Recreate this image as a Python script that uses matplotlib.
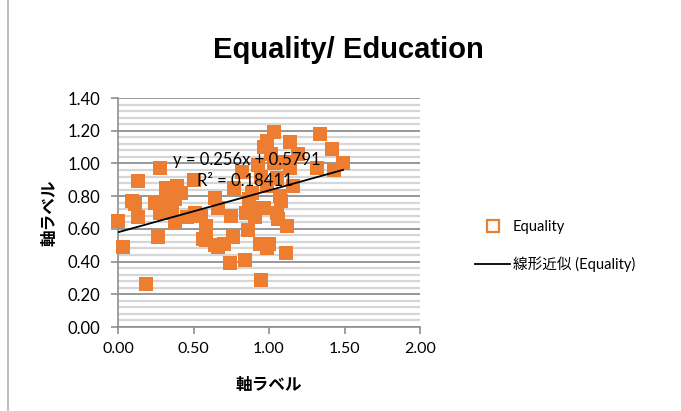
import numpy as np
import matplotlib
matplotlib.use("Agg")
import matplotlib.pyplot as plt
from matplotlib.lines import Line2D
from matplotlib.ticker import MultipleLocator

# === DATA ===
equality_x = [0.00, 0.03, 0.185, 0.13, 0.09, 0.11, 0.13, 0.28, 0.265, 0.245,
              0.32, 0.39, 0.50, 0.31, 0.38, 0.38, 0.28, 0.46, 0.51, 0.64,
              0.58, 0.56, 0.64, 0.70, 0.74, 0.84, 0.76, 0.86, 0.75, 0.85,
              0.94, 0.95, 0.99, 0.82, 0.77, 0.87, 1.03, 1.34, 1.42, 1.49,
              1.14, 0.97, 1.19, 1.32, 1.43, 1.14, 1.16, 1.05, 0.94, 1.05,
              1.12, 1.11, 0.99, 1.01, 0.89, 0.99, 1.07, 0.89, 0.66, 0.97,
              1.08, 0.91, 1.06, 0.58, 0.66, 1.00, 0.93, 1.03, 1.10, 0.95,
              0.42, 0.36, 0.55]
equality_y = [0.65, 0.49, 0.26, 0.89, 0.77, 0.75, 0.67, 0.97, 0.55, 0.76,
              0.85, 0.86, 0.90, 0.76, 0.78, 0.64, 0.70, 0.67, 0.70, 0.79,
              0.62, 0.54, 0.50, 0.51, 0.39, 0.41, 0.55, 0.59, 0.68, 0.70,
              0.51, 0.29, 0.48, 0.95, 0.85, 0.78, 1.19, 1.18, 1.09, 1.00,
              1.13, 1.10, 1.06, 0.97, 0.96, 0.97, 0.86, 0.91, 0.73, 0.70,
              0.62, 0.45, 1.14, 1.06, 0.82, 0.86, 0.80, 0.72, 0.73, 0.73,
              0.77, 0.67, 0.66, 0.53, 0.49, 0.51, 0.99, 1.00, 1.01, 0.92,
              0.82, 0.70, 0.68]

# trendline as printed on the chart
slope = 0.256
intercept = 0.5791
r_squared = "0.18411"

title = "Equality/ Education"
axis_label = "軸ラベル"
series_name = "Equality"
trend_name = "線形近似 (Equality)"

x_ticks = [0.0, 0.5, 1.0, 1.5, 2.0]
y_ticks = [0.0, 0.2, 0.4, 0.6, 0.8, 1.0, 1.2, 1.4]

orange = "#ED7D31"

plt.rcParams["font.family"] = ["Lato", "Noto Sans CJK JP", "DejaVu Sans"]

fig = plt.figure(figsize=(6.81, 4.11), dpi=100)
ax = fig.add_axes([118 / 681, 1 - 327 / 411, 302 / 681, 229 / 411])

# gridlines
ax.yaxis.set_minor_locator(MultipleLocator(0.04))
ax.grid(True, which="minor", axis="y", color="#d6d6d6", linewidth=1.6)
ax.grid(True, which="major", axis="y", color="#8f8f8f", linewidth=1.3)
ax.set_axisbelow(True)

ax.scatter(equality_x, equality_y, marker="s", s=115, color=orange,
           linewidths=0, zorder=3, clip_on=False)

tx = np.array([0, max(equality_x)])
ax.plot(tx, slope * tx + intercept, color="black", linewidth=1.3, zorder=4)

ax.text(0.364, 1.02, f"y = {slope}x + {intercept}", fontsize=12,
        va="center", ha="left", zorder=5)
ax.text(0.52, 0.89, f"R² = {r_squared}", fontsize=12,
        va="center", ha="left", zorder=5)

ax.set_xlim(0, 2.0)
ax.set_ylim(0, 1.4)
ax.set_xticks(x_ticks)
ax.set_yticks(y_ticks)
ax.set_xticklabels([f"{v:.2f}" for v in x_ticks], fontsize=11.5)
ax.set_yticklabels([f"{v:.2f}" for v in y_ticks], fontsize=12)
ax.tick_params(axis="both", which="major", color="#8f8f8f", length=5,
               width=1.2)
ax.tick_params(axis="x", pad=6)
ax.tick_params(axis="y", pad=8)
ax.tick_params(axis="y", which="minor", length=0)

for s in ["top", "right"]:
    ax.spines[s].set_visible(False)
for s in ["left", "bottom"]:
    ax.spines[s].set_color("#8f8f8f")
    ax.spines[s].set_linewidth(1.2)

ax.set_xlabel(axis_label, fontsize=12, fontweight="bold",
              family=["Noto Sans CJK JP"], labelpad=14)
ax.set_ylabel(axis_label, fontsize=12, fontweight="bold",
              family=["Noto Sans CJK JP"], labelpad=6)

fig.text(348 / 681, 1 - 50 / 411, title, fontsize=21, fontweight="bold",
         family=["Liberation Sans"], ha="center", va="center")

# legend
handles = [
    Line2D([], [], marker="s", linestyle="none", markersize=8,
           markerfacecolor="white", markeredgecolor=orange,
           markeredgewidth=1.6),
    Line2D([], [], color="black", linewidth=1.3),
]
fig.legend(handles, [series_name, trend_name], loc="center left",
           bbox_to_anchor=(462 / 681, 1 - 246 / 411), frameon=False,
           fontsize=10.5, labelspacing=1.5, handlelength=2.4,
           handletextpad=0.2)

# chart area border on the left
fig.add_artist(Line2D([8 / 681, 8 / 681], [0, 1], color="#b0b0b0",
                      linewidth=1.2, transform=fig.transFigure))

fig.savefig("out.png", dpi=100)
